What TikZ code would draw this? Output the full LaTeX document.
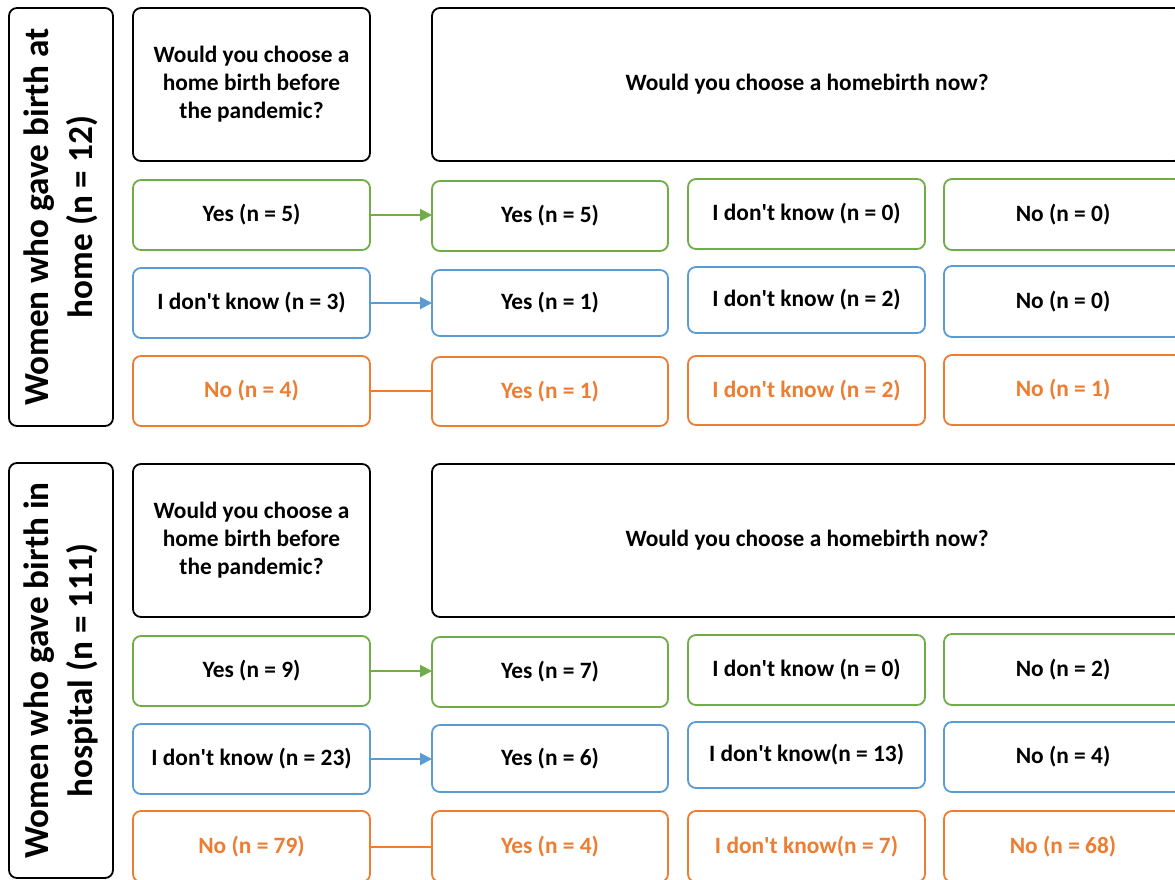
\documentclass[tikz,border=0pt]{standalone}
\usepackage{fontspec}
\setmainfont{Carlito}
\usetikzlibrary{arrows.meta}
\definecolor{cgreen}{HTML}{70AD47}
\definecolor{cblue}{HTML}{5B9BD5}
\definecolor{corange}{HTML}{ED7D31}
\newcommand\ap{\textquotesingle}
\newcommand\bx[7]{%
  \pgfmathsetmacro\bxw{#4-#2}\pgfmathsetmacro\bxh{#5-#3}%
  \pgfmathsetmacro\bxx{(#2+#4)/2}\pgfmathsetmacro\bxy{(#3+#5)/2}%
  \node[#6, minimum width=\bxw pt, minimum height=\bxh pt] (#1) at (\bxx,\bxy) {#7};}
\tikzset{
  box/.style={draw, rounded corners=8pt, line width=1.8pt, inner sep=0pt, outer sep=0pt,
    font=\bfseries\fontsize{23.4}{28}\selectfont, align=center},
  qbox/.style={box, draw=black},
  gbox/.style={box, draw=cgreen},
  bbox/.style={box, draw=cblue},
  obox/.style={box, draw=corange, text=corange},
  sidebox/.style={box, draw=black, rotate=90, font=\bfseries\fontsize{35.2}{43.5}\selectfont},
  gline/.style={draw=cgreen, line width=2pt, -{Triangle[length=12pt,width=12pt]}},
  bline/.style={draw=cblue, line width=2pt, -{Triangle[length=12pt,width=12pt]}},
  oline/.style={draw=corange, line width=2pt}
}
\begin{document}
\begin{tikzpicture}[x=1pt,y=-1pt]
\clip (0,0) rectangle (1175,879);
\fill[white] (0,0) rectangle (1175,879);
% ---------- top panel ----------
\node[sidebox, minimum width=418pt, minimum height=104pt] (t-side) at (61,217)
  {Women who gave birth at\\home (n = 12)};
\bx{t-q1}{133}{8}{370}{161}{qbox}{Would you choose a\\home birth before\\the pandemic?}
\bx{t-q2}{432}{8}{1182}{161}{qbox}{Would you choose a homebirth now?}
\bx{t-r1c0}{133}{180}{370}{250}{gbox}{Yes (n = 5)}
\bx{t-r1c1}{432}{181}{668}{251}{gbox}{Yes (n = 5)}
\bx{t-r1c2}{688}{179}{925}{249}{gbox}{I don\ap t know (n = 0)}
\bx{t-r1c3}{944}{179}{1182}{250}{gbox}{No (n = 0)}
\bx{t-r2c0}{133}{268}{370}{338}{bbox}{I don\ap t know (n = 3)}
\bx{t-r2c1}{432}{270}{668}{336}{bbox}{Yes (n = 1)}
\bx{t-r2c2}{688}{267}{925}{333}{bbox}{I don\ap t know (n = 2)}
\bx{t-r2c3}{944}{266}{1182}{337}{bbox}{No (n = 0)}
\bx{t-r3c0}{133}{356}{370}{426}{obox}{No (n = 4)}
\bx{t-r3c1}{432}{357}{668}{426}{obox}{Yes (n = 1)}
\bx{t-r3c2}{688}{356}{925}{425}{obox}{I don\ap t know (n = 2)}
\bx{t-r3c3}{944}{355}{1182}{425}{obox}{No (n = 1)}
\draw[gline] (t-r1c0.east) -- (t-r1c0.east -| t-r1c1.west);
\draw[bline] (t-r2c0.east) -- (t-r2c0.east -| t-r2c1.west);
\draw[oline] (t-r3c0.east) -- (t-r3c0.east -| t-r3c1.west);
% ---------- bottom panel ----------
\node[sidebox, minimum width=415pt, minimum height=104pt] (b-side) at (61,670.5)
  {Women who gave birth in\\hospital (n = 111)};
\bx{b-q1}{133}{464}{370}{617}{qbox}{Would you choose a\\home birth before\\the pandemic?}
\bx{b-q2}{432}{464}{1182}{617}{qbox}{Would you choose a homebirth now?}
\bx{b-r1c0}{133}{636}{370}{706}{gbox}{Yes (n = 9)}
\bx{b-r1c1}{432}{637}{668}{707}{gbox}{Yes (n = 7)}
\bx{b-r1c2}{688}{635}{925}{705}{gbox}{I don\ap t know (n = 0)}
\bx{b-r1c3}{944}{634}{1182}{705}{gbox}{No (n = 2)}
\bx{b-r2c0}{133}{724}{370}{794}{bbox}{I don\ap t know (n = 23)}
\bx{b-r2c1}{432}{725}{668}{792}{bbox}{Yes (n = 6)}
\bx{b-r2c2}{688}{722}{925}{788}{bbox}{I don\ap t know(n = 13)}
\bx{b-r2c3}{944}{722}{1182}{792}{bbox}{No (n = 4)}
\bx{b-r3c0}{133}{811}{370}{882}{obox}{No (n = 79)}
\bx{b-r3c1}{432}{811}{668}{882}{obox}{Yes (n = 4)}
\bx{b-r3c2}{688}{811}{925}{882}{obox}{I don\ap t know(n = 7)}
\bx{b-r3c3}{944}{811}{1182}{882}{obox}{No (n = 68)}
\draw[gline] (b-r1c0.east) -- (b-r1c0.east -| b-r1c1.west);
\draw[bline] (b-r2c0.east) -- (b-r2c0.east -| b-r2c1.west);
\draw[oline] (b-r3c0.east) -- (b-r3c0.east -| b-r3c1.west);
\end{tikzpicture}
\end{document}
